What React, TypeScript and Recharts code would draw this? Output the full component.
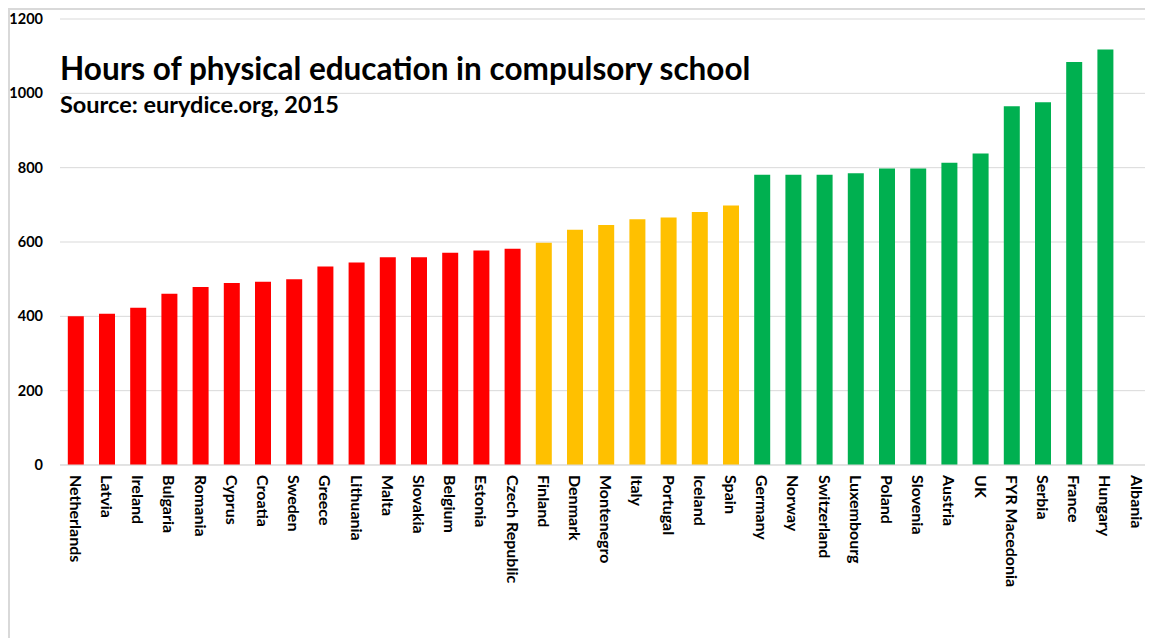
import React from 'react';
import { BarChart, Bar, XAxis, YAxis, CartesianGrid, Cell } from 'recharts';

// Países ordenados por horas de educación física (eurydice.org, 2015)
const countries = [
  'Netherlands', 'Latvia', 'Ireland', 'Bulgaria', 'Romania', 'Cyprus', 'Croatia', 'Sweden',
  'Greece', 'Lithuania', 'Malta', 'Slovakia', 'Belgium', 'Estonia', 'Czech Republic',
  'Finland', 'Denmark', 'Montenegro', 'Italy', 'Portugal', 'Iceland', 'Spain',
  'Germany', 'Norway', 'Switzerland', 'Luxembourg', 'Poland', 'Slovenia', 'Austria', 'UK',
  'FYR Macedonia', 'Serbia', 'France', 'Hungary', 'Albania'
];

// Albania sin dato (sin barra)
const hours: (number | null)[] = [
  400, 407, 423, 461, 479, 490, 493, 500,
  534, 545, 559, 559, 571, 577, 582,
  598, 633, 646, 661, 666, 681, 698,
  781, 781, 781, 785, 798, 798, 813, 838,
  965, 976, 1084, 1118, null
];

// grupo de color: 0 = rojo, 1 = amarillo, 2 = verde
const groups = [
  0, 0, 0, 0, 0, 0, 0, 0, 0, 0, 0, 0, 0, 0, 0,
  1, 1, 1, 1, 1, 1, 1,
  2, 2, 2, 2, 2, 2, 2, 2, 2, 2, 2, 2, 2
];

const groupColors = ['#FF0000', '#FFC000', '#00B050'];
const yTicks = [0, 200, 400, 600, 800, 1000, 1200];

const data = countries.map((country, i) => ({ country, hours: hours[i], group: groups[i] }));

const FONT = 'Lato, "Open Sans", sans-serif';

const CountryTick = (props: any) => {
  const { x, y, payload } = props;
  return (
    <g transform={`translate(${x},${y})`}>
      <text
        transform="rotate(90)"
        x={2}
        y={0}
        dy="0.36em"
        textAnchor="start"
        fill="#000"
        fontFamily={FONT}
        fontWeight={700}
        fontSize={16}
      >
        {payload.value}
      </text>
    </g>
  );
};

const App = () => {
  return (
    <div
      style={{
        position: 'relative',
        width: 1145,
        height: 630,
        borderLeft: '2px solid #d9d9d9',
        borderTop: '2px solid #d9d9d9',
        boxSizing: 'border-box',
        background: '#fff',
        fontFamily: FONT
      }}
    >
      <BarChart
        width={1143}
        height={628}
        data={data}
        margin={{ top: 9, right: 1, left: 0, bottom: 0 }}
        barCategoryGap="25%"
      >
        <CartesianGrid vertical={false} stroke="#d9d9d9" strokeWidth={1} />
        <XAxis
          dataKey="country"
          interval={0}
          height={173}
          tickLine={false}
          axisLine={{ stroke: '#d9d9d9' }}
          tick={<CountryTick />}
        />
        <YAxis
          width={50}
          domain={[0, 1200]}
          ticks={yTicks}
          tickLine={false}
          axisLine={false}
          tickMargin={11}
          tick={{ fill: '#000', fontFamily: FONT, fontWeight: 700, fontSize: 14.5 }}
        />
        <Bar dataKey="hours" isAnimationActive={false}>
          {data.map((d, i) => (
            <Cell key={`cell-${i}`} fill={groupColors[d.group]} />
          ))}
        </Bar>
      </BarChart>
      <div
        style={{
          position: 'absolute',
          left: 50,
          top: 40,
          fontSize: 31.5,
          fontWeight: 700,
          lineHeight: '36px',
          whiteSpace: 'nowrap',
          color: '#000'
        }}
      >
        Hours of physical education in compulsory school
      </div>
      <div
        style={{
          position: 'absolute',
          left: 50,
          top: 80,
          fontSize: 23.5,
          fontWeight: 700,
          lineHeight: '28px',
          whiteSpace: 'nowrap',
          color: '#000'
        }}
      >
        Source: eurydice.org, 2015
      </div>
    </div>
  );
};

export default App;
